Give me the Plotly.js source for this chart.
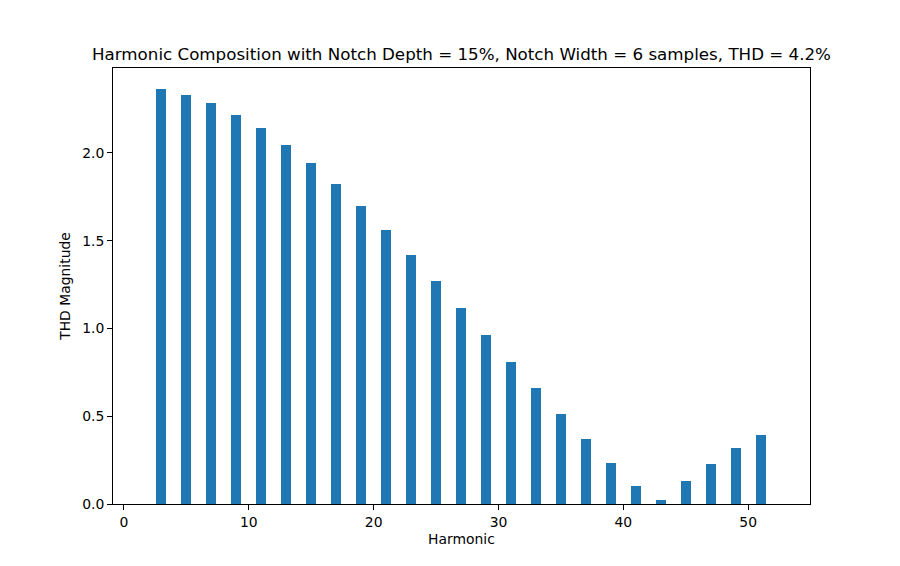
<!DOCTYPE html>
<html>
<head>
<meta charset="utf-8">
<script src="https://cdn.plot.ly/plotly-3.0.1.min.js"></script>
<style>
  html,body{margin:0;padding:0;background:#fff;}
  #chart{width:900px;height:566px;}
</style>
</head>
<body>
<div id="chart"></div>
<script>
// ── données ──
const harmonics = [3,5,7,9,11,13,15,17,19,21,23,25,27,29,31,33,35,37,39,41,43,45,47,49,51];
const thdMag = [2.365,2.332,2.287,2.217,2.142,2.046,1.943,1.823,1.698,1.561,1.419,1.271,1.117,
                0.963,0.809,0.661,0.513,0.370,0.234,0.103,0.023,0.131,0.228,0.319,0.393];
const chartTitle = 'Harmonic Composition with Notch Depth = 15%, Notch Width = 6 samples, THD = 4.2%';
const xLabel = 'Harmonic';
const yLabel = 'THD Magnitude';

const FONT = 'DejaVu Sans, sans-serif';
const axisBase = {
  showgrid:false, zeroline:false, showline:true, mirror:true,
  linecolor:'#000', linewidth:1, ticks:'outside', ticklen:5, tickwidth:1,
  tickcolor:'#000', tickfont:{family:FONT,size:13.9,color:'#000'}
};

const traces = [{
  type:'bar', x:harmonics, y:thdMag, width:0.8,
  marker:{color:'#1f77b4', line:{width:0}}, hoverinfo:'x+y'
}];

const layout = {
  width:900, height:566,
  paper_bgcolor:'#fff', plot_bgcolor:'#fff',
  margin:{l:113, r:90, t:68, b:62},
  showlegend:false,
  font:{family:FONT, color:'#000'},
  title:{text:chartTitle, font:{family:FONT,size:16.7,color:'#000'},
         x:0.5, xref:'paper', y:1, yref:'paper', yanchor:'bottom', pad:{b:8}},
  xaxis:Object.assign({}, axisBase, {
    range:[-0.88, 54.95], tickmode:'linear', tick0:0, dtick:10,
    title:{text:xLabel, font:{family:FONT,size:13.9,color:'#000'}, standoff:5}
  }),
  yaxis:Object.assign({}, axisBase, {
    range:[0, 2.484], tickmode:'linear', tick0:0, dtick:0.5, tickformat:'.1f',
    title:{text:yLabel, font:{family:FONT,size:13.9,color:'#000'}, standoff:8}
  }),
  bargap:0
};

Plotly.newPlot('chart', traces, layout, {displayModeBar:false, staticPlot:true});
</script>
</body>
</html>
